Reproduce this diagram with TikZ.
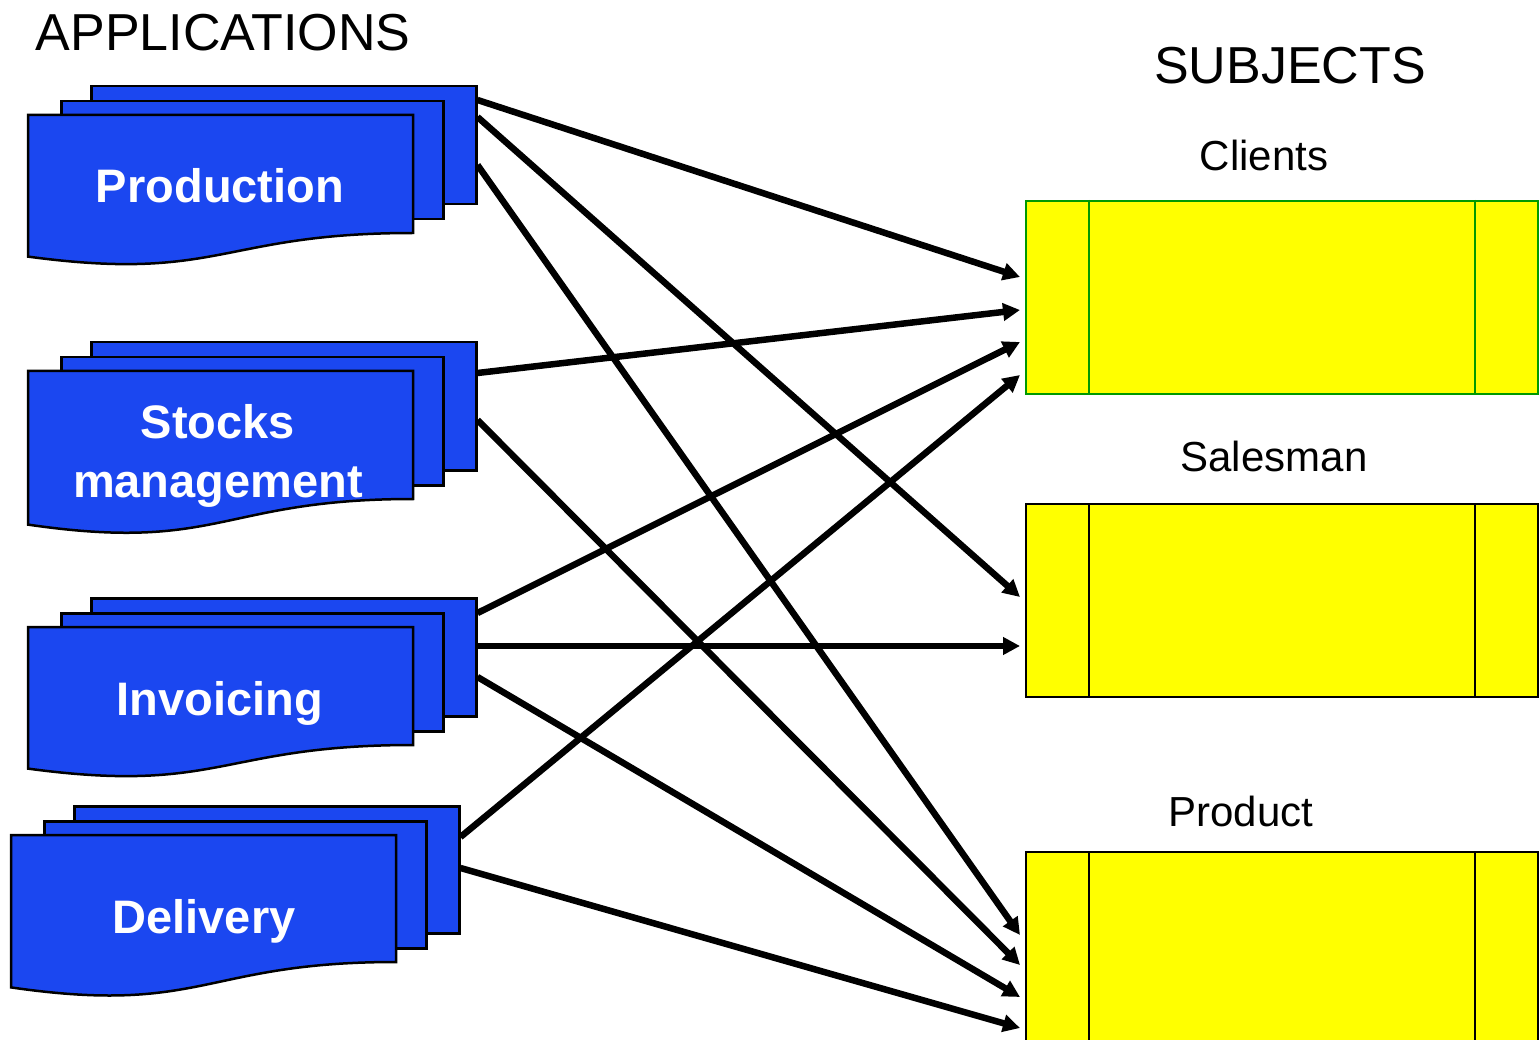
\documentclass[tikz,border=0pt]{standalone}
\usepackage{fontspec}
\setmainfont{Liberation Sans}
\usetikzlibrary{arrows.meta,calc}
\definecolor{docblue}{RGB}{27,71,240}
\definecolor{subjgreen}{RGB}{0,153,0}
\definecolor{subjyellow}{RGB}{255,255,0}
\tikzset{
  sheet/.style={draw=black, line width=2.5pt, fill=docblue, inner sep=0pt, anchor=north west},
  appname/.style={text=white, font=\fontsize{47}{59}\selectfont\bfseries, align=center, inner sep=0pt},
  heading/.style={font=\fontsize{52}{62}\selectfont, inner sep=0pt, anchor=base},
  subjlabel/.style={font=\fontsize{42}{50}\selectfont, inner sep=0pt, anchor=base},
  subjbox/.style={draw=black, line width=2pt, fill=subjyellow, minimum width=512pt, minimum height=193pt, inner sep=0pt, anchor=north west},
  divider/.style={line width=2pt, draw=black},
  flow/.style={line width=6.5pt, -{Triangle[length=17pt,width=17pt]}},
}
\newcommand\docstack[4]{%
  \node[sheet, minimum width=385pt, minimum height=#4pt] (#1B) at (#2,#3) {};
  \node[sheet, minimum width=382pt, minimum height=#4pt] (#1M) at (#2-30,#3+15) {};
  \draw[sheet] (#2-62,#3+30) coordinate (#1F) -- (#2+323,#3+30) -- (#2+323,#3+30+#4)
    .. controls (#2+130.5,#3+30+#4) and (#2+130.5,#3+30+1.42*#4) .. (#2-62,#3+30+1.2*#4) -- cycle;
}
\begin{document}
\begin{tikzpicture}[x=1pt,y=-1pt]
\useasboundingbox (0,0) rectangle (1539,1040);

% headings
\node[heading] (apps) at (223,51) {APPLICATIONS};
\node[heading] (subjs) at (1290,84) {SUBJECTS};

% application stacks
\docstack{prod}{90}{85}{118}
\docstack{stock}{90}{341}{128}
\docstack{inv}{90}{597}{118}
\docstack{del}{73}{805}{127}

\node[appname, anchor=base] (prodT) at (220,203) {Production};
\node[appname] (stockT) at (218,456) {Stocks\\management};
\node[appname, anchor=base] (invT) at (220,715) {Invoicing};
\node[appname, anchor=base] (delT) at (204,933) {Delivery};

% subjects
\node[subjlabel] (clientsL) at (1264,171) {Clients};
\node[subjlabel] (salesL) at (1274,471) {Salesman};
\node[subjlabel] (prodL) at (1241,826) {Product};

\node[subjbox, draw=subjgreen] (clients) at (1025,200) {};
\node[subjbox] (salesman) at (1025,503) {};
\node[subjbox, minimum height=220pt] (product) at (1025,851) {};

\draw[divider, draw=subjgreen] ([xshift=64pt]clients.north west) -- ([xshift=64pt]clients.south west);
\draw[divider, draw=subjgreen] ([xshift=-64pt]clients.north east) -- ([xshift=-64pt]clients.south east);
\draw[divider] ([xshift=64pt]salesman.north west) -- ([xshift=64pt]salesman.south west);
\draw[divider] ([xshift=-64pt]salesman.north east) -- ([xshift=-64pt]salesman.south east);
\draw[divider] ([xshift=64pt]product.north west) -- ([xshift=64pt]product.south west);
\draw[divider] ([xshift=-64pt]product.north east) -- ([xshift=-64pt]product.south east);

% connectors
\draw[flow] ($(prodB.north east)+(0,15)$) -- ($(clients.north west)+(-5,77)$);
\draw[flow] ($(prodB.north east)+(0,32)$) -- ($(salesman.north west)+(-5,94)$);
\draw[flow] ($(prodB.north east)+(0,80)$) -- ($(product.north west)+(-5,84)$);
\draw[flow] ($(stockB.north east)+(0,32)$) -- ($(clients.north west)+(-5,110)$);
\draw[flow] ($(stockB.north east)+(0,79)$) -- ($(product.north west)+(-5,114)$);
\draw[flow] ($(invB.north east)+(0,16)$) -- ($(clients.north west)+(-5,142)$);
\draw[flow] ($(invB.north east)+(0,49)$) -- ($(salesman.north west)+(-5,143)$);
\draw[flow] ($(invB.north east)+(0,80)$) -- ($(product.north west)+(-5,146)$);
\draw[flow] ($(delB.north east)+(0,32)$) -- ($(clients.north west)+(-5,175)$);
\draw[flow] ($(delB.north east)+(0,63)$) -- ($(product.north west)+(-5,177)$);
\end{tikzpicture}
\end{document}
